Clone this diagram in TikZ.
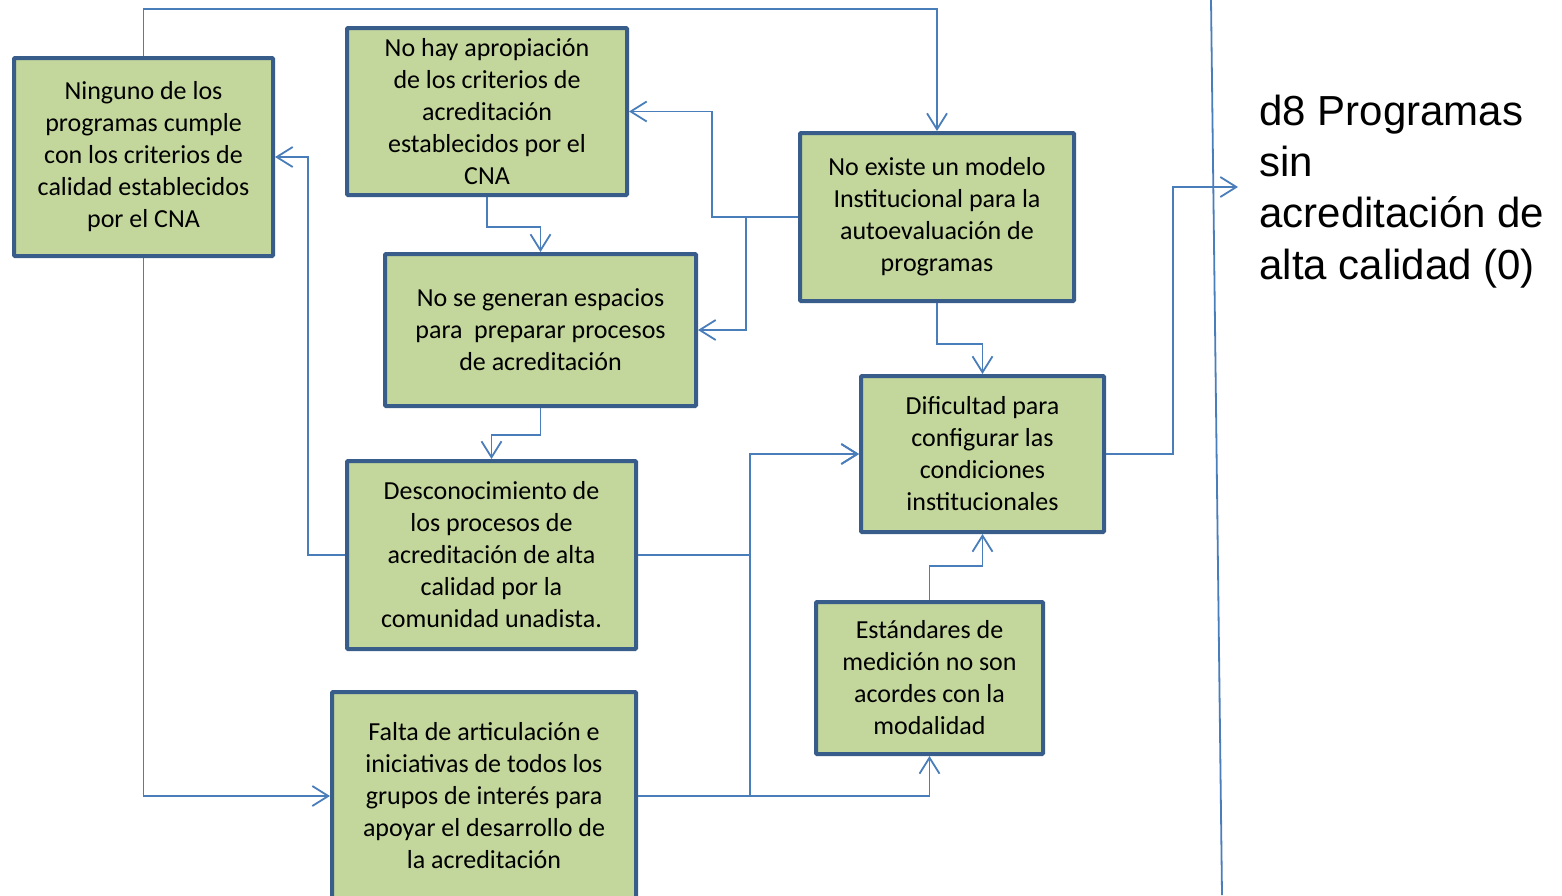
\documentclass[tikz,border=0pt]{standalone}
\usepackage{fontspec}
\newfontfamily\boxfont{Carlito}
\newfontfamily\arialfont{Liberation Sans}
\usetikzlibrary{arrows.meta}
\definecolor{boxfill}{HTML}{C3D69B}
\definecolor{boxline}{HTML}{385D8A}
\definecolor{connline}{HTML}{4A7EBB}
\tikzset{
  cbox/.style={draw=boxline, line width=2pt, fill=boxfill, rectangle, rounded corners=0.5pt,
    align=center, inner sep=0pt, font=\boxfont\fontsize{13}{16}\selectfont},
  conn/.style={draw=connline, line width=0.9pt},
  arr/.style={conn, -{Straight Barb[length=8pt,width=10pt,line width=0.9pt]}},
}
\begin{document}
\begin{tikzpicture}[x=0.5pt,y=-0.5pt]
\useasboundingbox (0,0) rectangle (1562,895);
\node[cbox, minimum width=129.5pt, minimum height=99pt] (nin) at (143.5,157)
  {Ninguno de los\\programas cumple\\con los criterios de\\calidad establecidos\\por el CNA};
\node[cbox, minimum width=140pt, minimum height=83.5pt] (nohay) at (487,111.5)
  {No hay apropiación\\de los criterios de\\acreditación\\establecidos por el\\CNA};
\node[cbox, minimum width=137pt, minimum height=84pt] (noex) at (937,217)
  {No existe un modelo\\Institucional para la\\autoevaluación de\\programas};
\node[cbox, minimum width=155.5pt, minimum height=76pt] (nose) at (540.5,330)
  {No se generan espacios\\para\ \ preparar procesos\\de acreditación};
\node[cbox, minimum width=121.5pt, minimum height=78pt] (dif) at (982.5,454)
  {Dificultad para\\configurar las\\condiciones\\institucionales};
\node[cbox, minimum width=144.5pt, minimum height=94pt] (desc) at (491.5,555)
  {Desconocimiento de\\los procesos de\\acreditación de alta\\calidad por la\\comunidad unadista.};
\node[cbox, minimum width=113.5pt, minimum height=76pt] (est) at (929.5,678)
  {Estándares de\\medición no son\\acordes con la\\modalidad};
\node[cbox, minimum width=152pt, minimum height=104pt] (falta) at (484,796)
  {Falta de articulación e\\iniciativas de todos los\\grupos de interés para\\apoyar el desarrollo de\\la acreditación};
\node[anchor=base west, align=left, inner sep=0pt, font=\arialfont\fontsize{21}{25.6}\selectfont] (title) at (1259,279)
  {d8 Programas\\sin\\acreditación de\\alta calidad (0)};
\coordinate (tgt) at (1238,187);
\coordinate (vt) at (1211,0);
\coordinate (vb) at (1222,895);
\draw[conn] (vt) -- (vb);
\draw[arr] (nin.north) -- ++(0,-47) -| (noex.north);
\draw[arr] (nin.south) |- (falta.west);
\draw[arr] (noex.west) -- ++(-86,0) |- (nohay.east);
\draw[arr] (noex.west) -- ++(-52,0) |- (nose.east);
\draw[arr] (nohay.south) -- ++(0,30) -| (nose.north);
\draw[arr] (nose.south) -- ++(0,27) -| (desc.north);
\draw[arr] (desc.west) -- ++(-37,0) |- (nin.east);
\draw[arr] (desc.east) -- ++(112,0) |- (dif.west);
\draw[arr] (falta.east) -- ++(112,0) |- (dif.west);
\draw[arr] (falta.east) -| (est.south);
\draw[arr] (noex.south) -- ++(0,41) -| (dif.north);
\draw[arr] (est.north) -- ++(0,-34) -| (dif.south);
\draw[arr] (dif.east) -- ++(67,0) |- (tgt);
\end{tikzpicture}
\end{document}
